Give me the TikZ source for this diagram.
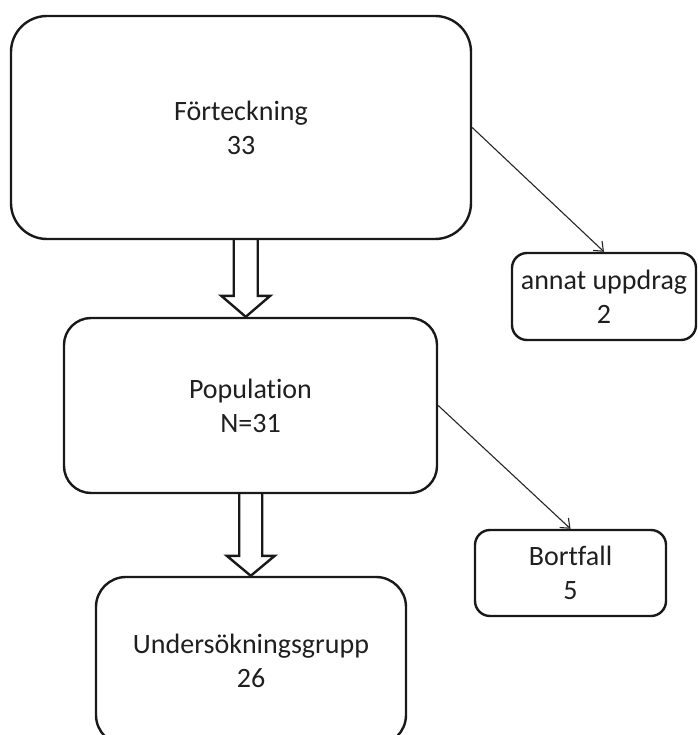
\documentclass[tikz,border=0pt]{standalone}
\usepackage{fontspec}
\setmainfont{Carlito}[Ligatures={NoCommon,NoRare,NoContextual}]
\usetikzlibrary{arrows.meta,calc}
\begin{document}
\begin{tikzpicture}[x=1pt,y=-1pt,
  box/.style={draw=black!90, line width=2.4pt, align=center, inner sep=0pt,
    text=black!88, font=\fontsize{28}{34}\selectfont},
  thinarrow/.style={draw=black!85, line width=1.1pt, -{Straight Barb[length=8pt,width=13pt]}},
  fatarrow/.style={draw=black!90, line width=2.4pt, line join=miter}]
\useasboundingbox (0,0) rectangle (697,735);
\node[box, rounded corners=36pt, minimum width=460pt, minimum height=223pt] (f) at (241,127.5) {Förteckning\\33};
\node[box, rounded corners=15pt, minimum width=184pt, minimum height=87pt] (a) at (604,296.5) {annat uppdrag\\2};
\node[box, rounded corners=27pt, minimum width=373pt, minimum height=175pt] (p) at (250.5,405.5) {Population\\N=31};
\node[box, rounded corners=15pt, minimum width=191pt, minimum height=86pt] (b) at (570.5,573) {Bortfall\\5};
\node[box, rounded corners=30pt, minimum width=310pt, minimum height=168pt] (u) at (251,661) {Undersökningsgrupp\\26};
\draw[thinarrow] (f.east) -- (a.north);
\draw[thinarrow] (p.east) -- (b.north);
\draw[fatarrow] let \p1=($(f.south)!0.5!(p.north)$), \p2=(f.south), \p3=(p.north) in
  ({\x1-12pt},\y2) -- ({\x1-12pt},{\y3+21pt}) -- ({\x1-24.5pt},{\y3+21pt}) -- (\x1,\y3)
  -- ({\x1+24.5pt},{\y3+21pt}) -- ({\x1+12pt},{\y3+21pt}) -- ({\x1+12pt},\y2);
\draw[fatarrow] let \p1=($(p.south)!0.5!(u.north)$), \p2=(p.south), \p3=(u.north) in
  ({\x1-11.5pt},\y2) -- ({\x1-11.5pt},{\y3+20pt}) -- ({\x1-24pt},{\y3+20pt}) -- (\x1,\y3)
  -- ({\x1+24pt},{\y3+20pt}) -- ({\x1+11.5pt},{\y3+20pt}) -- ({\x1+11.5pt},\y2);
\end{tikzpicture}
\end{document}
